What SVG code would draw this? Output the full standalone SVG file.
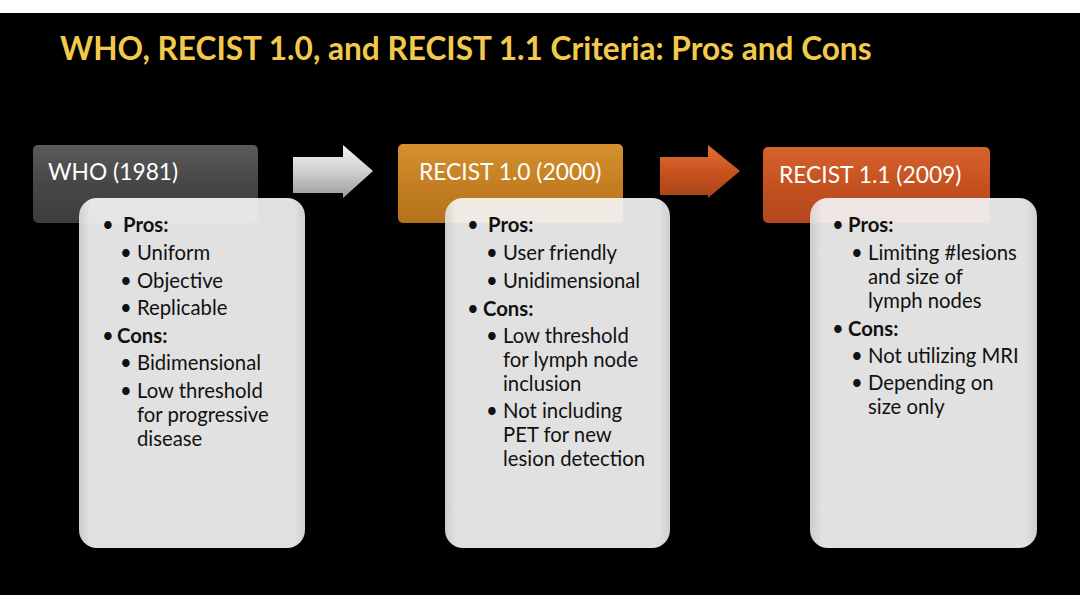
<svg xmlns="http://www.w3.org/2000/svg" width="1080" height="608" viewBox="0 0 1080 608">
<defs>
<linearGradient id="gGray" x1="0" y1="0" x2="0" y2="1"><stop offset="0" stop-color="#5a5a5a"/><stop offset="0.5" stop-color="#474747"/><stop offset="1" stop-color="#3c3c3c"/></linearGradient>
<linearGradient id="gOrange" x1="0" y1="0" x2="0" y2="1"><stop offset="0" stop-color="#d5912f"/><stop offset="0.5" stop-color="#c47f22"/><stop offset="1" stop-color="#b5721c"/></linearGradient>
<linearGradient id="gRed" x1="0" y1="0" x2="0" y2="1"><stop offset="0" stop-color="#d6622e"/><stop offset="0.5" stop-color="#c4511f"/><stop offset="1" stop-color="#b2481b"/></linearGradient>
<linearGradient id="gArrowGray" x1="0" y1="0" x2="0" y2="1"><stop offset="0" stop-color="#f2f2f2"/><stop offset="0.5" stop-color="#d0d0d0"/><stop offset="1" stop-color="#9a9a9a"/></linearGradient>
<linearGradient id="gArrowRed" x1="0" y1="0" x2="0" y2="1"><stop offset="0" stop-color="#e0703a"/><stop offset="0.5" stop-color="#c8531f"/><stop offset="1" stop-color="#a8431a"/></linearGradient>
<linearGradient id="gCard" x1="0" y1="0" x2="1" y2="0"><stop offset="0" stop-color="#dedede"/><stop offset="0.05" stop-color="#f4f4f4"/><stop offset="0.95" stop-color="#f4f4f4"/><stop offset="1" stop-color="#e0e0e0"/></linearGradient>
</defs>
<style>
.title{font-family:"Lato","Liberation Sans",sans-serif;font-weight:bold;font-size:31.6px;fill:#f2c94c}
.head{font-family:"Lato","Liberation Sans",sans-serif;font-size:22.8px;fill:#ffffff}
.t{font-family:"Lato","Liberation Sans",sans-serif;font-size:20.3px;fill:#111111}
.b{font-weight:bold}
.card{fill:url(#gCard);fill-opacity:0.92}
</style>
<rect x="0" y="0" width="1080" height="608" fill="#ffffff"/>
<rect x="0" y="13" width="1080" height="582" fill="#000000"/>
<text class="title" x="60" y="60">WHO, RECIST 1.0, and RECIST 1.1 Criteria: Pros and Cons</text>

<g id="connectors">
<path d="M293,157 L343,157 L343,145 L373,171 L343,198 L343,193 L293,193 Z" fill="url(#gArrowGray)"/>
<path d="M660,157 L708,157 L708,145 L740,171 L708,198 L708,195 L660,195 Z" fill="url(#gArrowRed)"/>
</g>

<g id="who">
<rect x="33" y="145" width="225" height="78" rx="5" fill="url(#gGray)"/>
<text class="head" x="48" y="180">WHO (1981)</text>
<rect class="card" x="79" y="198" width="226" height="350" rx="18"/>
<text class="t" x="102" y="232">•</text><text class="t b" x="123" y="232">Pros:</text>
<text class="t" x="120" y="260">•</text><text class="t" x="137" y="260">Uniform</text>
<text class="t" x="120" y="288">•</text><text class="t" x="137" y="288">Objective</text>
<text class="t" x="120" y="315">•</text><text class="t" x="137" y="315">Replicable</text>
<text class="t" x="102" y="343">•</text><text class="t b" x="117" y="343">Cons:</text>
<text class="t" x="120" y="370">•</text><text class="t" x="137" y="370">Bidimensional</text>
<text class="t" x="120" y="398">•</text><text class="t" x="137" y="398">Low threshold</text>
<text class="t" x="137" y="422">for progressive</text>
<text class="t" x="137" y="446">disease</text>
</g>

<g id="recist10">
<rect x="398" y="144" width="225" height="79" rx="5" fill="url(#gOrange)"/>
<text class="head" x="419" y="180">RECIST 1.0 (2000)</text>
<rect class="card" x="445" y="198" width="225" height="350" rx="18"/>
<text class="t" x="467" y="232">•</text><text class="t b" x="488" y="232">Pros:</text>
<text class="t" x="486" y="260">•</text><text class="t" x="503" y="260">User friendly</text>
<text class="t" x="486" y="288">•</text><text class="t" x="503" y="288">Unidimensional</text>
<text class="t" x="467" y="316">•</text><text class="t b" x="483" y="316">Cons:</text>
<text class="t" x="486" y="343">•</text><text class="t" x="503" y="343">Low threshold</text>
<text class="t" x="503" y="367">for lymph node</text>
<text class="t" x="503" y="391">inclusion</text>
<text class="t" x="486" y="418">•</text><text class="t" x="503" y="418">Not including</text>
<text class="t" x="503" y="442">PET for new</text>
<text class="t" x="503" y="466">lesion detection</text>
</g>

<g id="recist11">
<rect x="763" y="147" width="227" height="76" rx="5" fill="url(#gRed)"/>
<text class="head" x="779" y="183">RECIST 1.1 (2009)</text>
<rect class="card" x="810" y="198" width="227" height="350" rx="18"/>
<text class="t" x="832" y="232">•</text><text class="t b" x="848" y="232">Pros:</text>
<text class="t" x="851" y="260">•</text><text class="t" x="868" y="260">Limiting #lesions</text>
<text class="t" x="868" y="284">and size of</text>
<text class="t" x="868" y="308">lymph nodes</text>
<text class="t" x="832" y="336">•</text><text class="t b" x="848" y="336">Cons:</text>
<text class="t" x="851" y="363">•</text><text class="t" x="868" y="363">Not utilizing MRI</text>
<text class="t" x="851" y="390">•</text><text class="t" x="868" y="390">Depending on</text>
<text class="t" x="868" y="414">size only</text>
</g>
</svg>
